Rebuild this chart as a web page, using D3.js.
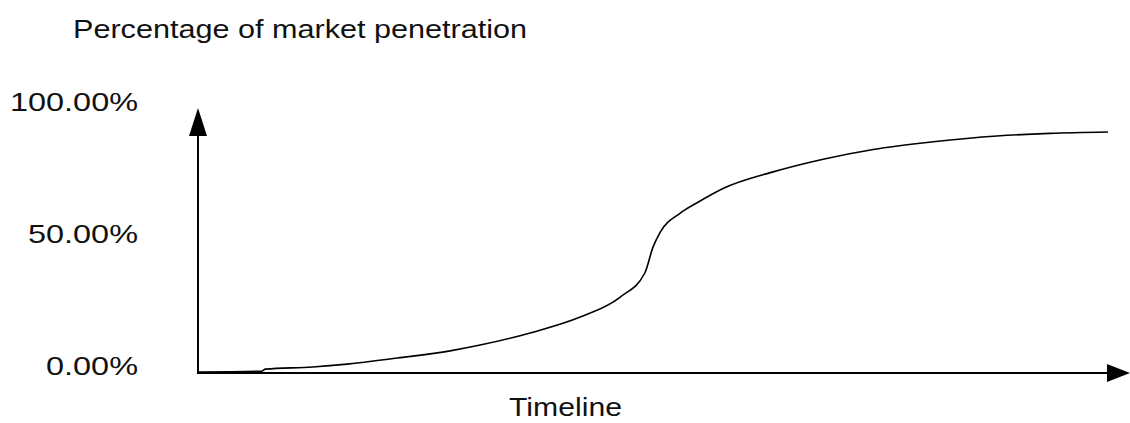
<!DOCTYPE html>
<html>
<head>
<meta charset="utf-8">
<script src="https://cdn.jsdelivr.net/npm/d3@7"></script>
<style>
  body { margin: 0; background: #fff; }
  text { font-family: "Liberation Sans", Arial, sans-serif; fill: #111; }
</style>
</head>
<body>
<script>
var width = 1130;
var height = 423;

// timeline position (0-100) and market penetration (%)
var timeline = [0, 7, 7.4, 12.6, 16.4, 21.9, 27.7, 31.0, 36.5, 42.0, 46.4, 49.1, 50.0, 50.8, 53.0, 54.8, 57.7, 63.2, 68.7, 74.2, 80.8, 87.8, 93.6, 100];
var penetration = [0, 0.3, 1.1, 1.9, 3.0, 5.3, 8.0, 10.2, 14.8, 20.8, 28.4, 37.5, 47.3, 53.0, 60.2, 64.0, 69.5, 75.8, 80.6, 84.3, 87.2, 89.4, 90.4, 90.9];
var yTicks = [0, 50, 100];
var yTickLabels = ["0.00%", "50.00%", "100.00%"];
var title = "Percentage of market penetration";
var xTitle = "Timeline";

var svg = d3.select("body")
    .append("svg")
    .attr("width", width)
    .attr("height", height);

var x = d3.scaleLinear().domain([0, 100]).range([198, 1108]);
var y = d3.scaleLinear().domain([0, 100]).range([372, 108]);

// axes with arrow heads
svg.append("line")
    .attr("x1", x(0)).attr("y1", y(0) + 1)
    .attr("x2", x(0)).attr("y2", y(100) + 20)
    .style("stroke", "#000").style("stroke-width", 2);
svg.append("line")
    .attr("x1", x(0) - 1).attr("y1", y(0) + 1)
    .attr("x2", x(100) + 2).attr("y2", y(0) + 1)
    .style("stroke", "#000").style("stroke-width", 2);
svg.append("path")
    .attr("d", "M" + x(0) + "," + y(100) + " L" + (x(0) - 9) + "," + (y(100) + 28) + " L" + (x(0) + 9) + "," + (y(100) + 28) + " Z")
    .style("fill", "#000");
svg.append("path")
    .attr("d", "M" + (x(100) + 22) + "," + (y(0) + 1) + " L" + (x(100) - 1) + "," + (y(0) - 8) + " L" + (x(100) - 1) + "," + (y(0) + 10) + " Z")
    .style("fill", "#000");

// tick labels (widths fitted to the reference's wider face)
var labelWidth = { "0.00%": 92, "50.00%": 110, "100.00%": 128 };
svg.append("g")
    .selectAll("text")
    .data(yTicks)
    .enter().append("text")
    .attr("x", 138)
    .attr("y", function (d) { return y(d) + 3; })
    .attr("text-anchor", "end")
    .attr("textLength", function (d, i) { return labelWidth[yTickLabels[i]]; })
    .attr("lengthAdjust", "spacingAndGlyphs")
    .style("font-size", "26px")
    .text(function (d, i) { return yTickLabels[i]; });

svg.append("text")
    .attr("x", 73)
    .attr("y", 38)
    .attr("textLength", 454)
    .attr("lengthAdjust", "spacingAndGlyphs")
    .style("font-size", "26px")
    .text(title);

svg.append("text")
    .attr("x", 509)
    .attr("y", 416)
    .attr("textLength", 113)
    .attr("lengthAdjust", "spacingAndGlyphs")
    .style("font-size", "26px")
    .text(xTitle);

// penetration curve
var points = timeline.map(function (t, i) { return [t, penetration[i]]; });
var line = d3.line()
    .x(function (d) { return x(d[0]); })
    .y(function (d) { return y(d[1]); })
    .curve(d3.curveMonotoneX);
svg.append("path")
    .datum(points)
    .attr("d", line)
    .style("fill", "none")
    .style("stroke", "#000")
    .style("stroke-width", 1.6);
</script>
</body>
</html>
